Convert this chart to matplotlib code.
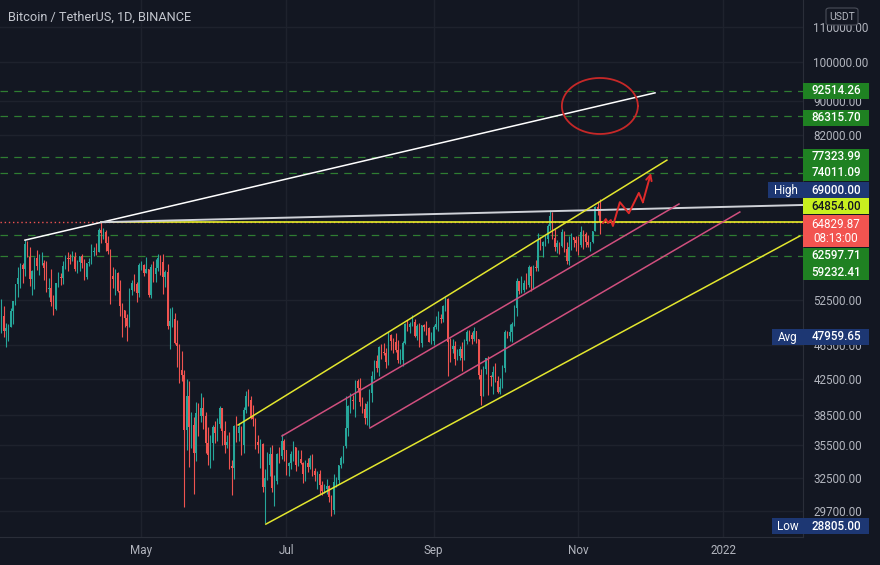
import matplotlib
matplotlib.use("Agg")
import matplotlib.pyplot as plt
from matplotlib.patches import Rectangle, FancyBboxPatch
import numpy as np
import pandas as pd

# ---- daily BTC/USDT candles, 2021-03-02 .. 2021-11-10 ----
start = pd.Timestamp("2021-03-02")
first_open = 49595

closes = [
    # Mar
    48440, 50350, 48374, 48751, 48882, 50971, 52376, 54884, 55851, 57773, 57221, 61188, 58968, 55605, 56900,
    58912, 57648, 58030, 58102, 57351, 54083, 54340, 52303, 51293, 55025, 55817, 55777, 57635, 58746, 58740,
    # Apr
    58720, 58981, 57094, 58215, 59123, 58019, 55948, 58077, 58143, 59770, 60007, 59860, 63577, 62959, 63159,
    61334, 60006, 56150, 55663, 56473, 53906, 51763, 51094, 50050, 49004, 54022, 55034, 54825, 53556, 57750,
    # May
    57828, 56610, 57213, 53241, 57473, 56429, 57380, 58928, 58280, 55883, 56750, 49007, 49716, 49880, 46760,
    46457, 43538, 42910, 36964, 40596, 37304, 37537, 34770, 38705, 38402, 39295, 38436, 35698, 34617, 35679, 37333,
    # Jun
    36694, 37568, 39247, 36857, 35520, 35797, 33553, 33410, 37388, 36676, 37335, 35546, 39021, 40516, 40144,
    38350, 38093, 35820, 35484, 35600, 31676, 32506, 33676, 34664, 31637, 32187, 34649, 34434, 35867, 35041,
    # Jul
    33572, 33815, 34700, 35287, 33691, 34220, 33862, 32875, 33815, 33502, 34258, 33086, 32729, 32820, 31880,
    31383, 31520, 31778, 30839, 29790, 32144, 32287, 33634, 34258, 35425, 37208, 39456, 40019, 40016, 42206, 41461,
    # Aug
    39845, 39147, 38207, 39723, 40862, 42836, 44614, 43792, 46285, 45593, 45562, 44399, 47800, 47068, 46973,
    45901, 44695, 44705, 46760, 49322, 48821, 49239, 49489, 47674, 48953, 46843, 49069, 48895, 48767, 46971, 47100,
    # Sep
    48811, 49247, 49942, 49920, 51756, 52663, 46863, 46048, 46395, 44843, 45143, 46063, 44963, 47092, 48176,
    47784, 47268, 48278, 47260, 42965, 40594, 43574, 44896, 42840, 42716, 43208, 42235, 41034, 41564, 43790,
    # Oct
    48165, 47657, 48233, 49245, 51493, 55339, 53797, 53963, 54963, 54690, 57485, 56006, 57367, 57347, 61673,
    60875, 61528, 62010, 64262, 65993, 62211, 60689, 61287, 60853, 63079, 60329, 58413, 60575, 62254, 61859, 61300,
    # Nov
    60912, 63219, 62897, 61396, 61005, 61527, 63273, 67525, 66940, 64830,
]
highs = [
    50200, 52640, 51773, 49448, 49200, 51450, 52402, 54895, 57387, 58150, 58058, 61788, 61683, 60633, 56938,
    58981, 60129, 59468, 59880, 58589, 58430, 55830, 57200, 53237, 55073, 56700, 56559, 58405, 59368, 59800,
    59474, 60036, 59791, 58500, 59251, 59475, 58650, 58153, 58894, 61200, 60658, 61300, 63777, 64854, 63800,
    63520, 62506, 60408, 57526, 57076, 56757, 55460, 52130, 51167, 50591, 54356, 55477, 56428, 55200, 58075,
    58448, 57900, 58963, 57214, 57939, 58360, 58650, 59500, 59300, 59592, 57000, 58000, 51367, 51560, 50700,
    49800, 46643, 45800, 43546, 42451, 42200, 38856, 38300, 39920, 39791, 40841, 40411, 38856, 37338, 36488, 37534,
    37894, 38225, 39477, 39289, 37925, 36480, 36789, 34068, 37534, 38400, 37680, 37437, 39380, 41064, 41330,
    40528, 39559, 38202, 36457, 36139, 35750, 33298, 34881, 35298, 35500, 32730, 34749, 35297, 36600, 36100,
    35036, 33939, 34909, 35950, 35293, 35038, 35059, 33914, 34100, 34262, 34592, 34678, 33340, 33114, 33185,
    32249, 31936, 32435, 31885, 31063, 32858, 32591, 33650, 34500, 35398, 40550, 39542, 40900, 40640, 42316, 42448,
    42599, 40459, 39780, 39969, 41350, 43392, 44700, 45310, 46454, 46718, 46744, 46218, 48144, 48000, 47372,
    48053, 47160, 46000, 47033, 49382, 49757, 49500, 50500, 49875, 49217, 49370, 49185, 49309, 49640, 48908, 48250,
    49150, 50400, 51052, 50558, 51900, 52920, 52853, 47400, 47340, 47033, 45987, 46450, 46880, 47250, 48475,
    48499, 48163, 48800, 48363, 47320, 43639, 44000, 44978, 45200, 42970, 43950, 44350, 42787, 42590, 44132,
    48495, 48336, 49228, 49536, 51886, 55750, 55338, 56100, 55489, 56561, 57839, 57680, 57793, 58532, 62933,
    62378, 61700, 62695, 64486, 67000, 66639, 63732, 61747, 61500, 63710, 63293, 61496, 62499, 62980, 62359, 62405,
    62437, 64270, 63500, 63086, 62595, 61560, 63286, 67789, 68524, 69000,
]
lows = [
    47047, 48100, 47500, 46300, 47070, 48880, 49274, 51789, 53005, 54269, 55013, 56083, 58963, 54600, 53271,
    54123, 57023, 56270, 57820, 55450, 53650, 53000, 51700, 50427, 51225, 54400, 54691, 54899, 57166, 56770,
    57935, 58446, 56863, 56478, 56789, 57333, 55473, 55700, 57654, 57870, 59177, 59360, 59806, 61301, 62020,
    60000, 59580, 52000, 54221, 53329, 53695, 50400, 47500, 48805, 47044, 48817, 53222, 53813, 52330, 53013,
    57052, 56035, 56478, 53000, 52900, 55200, 55241, 56900, 56235, 53400, 54370, 48600, 46000, 48805, 46650,
    43825, 42001, 42250, 30000, 35000, 33488, 35200, 31111, 34031, 36419, 37800, 37134, 34779, 33632, 33379, 34154,
    35666, 35920, 37170, 35555, 34800, 35258, 33300, 31000, 32397, 35787, 35936, 34600, 34757, 38730, 39506,
    38116, 37365, 35129, 34803, 33336, 31251, 28805, 32286, 32700, 31275, 30151, 32000, 33862, 34225, 34017,
    32712, 32700, 33316, 34017, 33125, 33600, 33780, 32077, 32261, 33004, 33332, 32658, 32202, 31550, 31133,
    31020, 31164, 31108, 30430, 29278, 29482, 31708, 31925, 33401, 33851, 35205, 36383, 38772, 39200, 38313, 41000,
    39422, 38690, 37642, 37508, 37332, 39853, 42446, 43261, 42779, 44868, 45351, 43770, 44057, 45971, 45500,
    45660, 44376, 44203, 43927, 46622, 48274, 48050, 49029, 47600, 47122, 46315, 46350, 48370, 47801, 46862, 46700,
    46512, 48584, 48349, 49400, 49500, 50969, 42843, 44412, 45513, 44132, 44722, 44742, 43370, 44750, 46682,
    47020, 46700, 47044, 46829, 42500, 39600, 40565, 43069, 40675, 41646, 40750, 42098, 40888, 40753, 41410,
    43283, 47430, 47088, 46891, 49002, 50382, 53357, 53617, 53661, 54080, 54415, 53879, 54167, 56818, 56850,
    60150, 58963, 60876, 61322, 63481, 62000, 60000, 59668, 59510, 60650, 59817, 58000, 57820, 60174, 60674, 59945,
    59405, 60624, 60382, 60677, 60721, 60050, 61322, 63273, 66222, 62822,
]

# price axis ticks and axis badges
tick_prices = [110000, 100000, 90000, 82000, 52500, 46500, 42500, 38500, 35500, 32500, 29700]
green_levels = [92514.26, 86315.70, 77323.99, 74011.09, 62597.71, 59232.41]
high_price = 69000.00
yellow_level = 64854.00
last_price = 64829.87
countdown = "08:13:00"
avg_price = 47959.65
low_price = 28805.00

month_ticks = ["2021-05-01", "2021-07-01", "2021-09-01", "2021-11-01", "2022-01-01"]
month_labels = ["May", "Jul", "Sep", "Nov", "2022"]

# user drawings: (day index from start, price)
white_line = ([11, 276.2], [61788, 92000])
gray_ray = ([43, 338.5], [64854, 67950])
yellow_top = ([100.7, 281.2], [37490, 76700])
yellow_bottom = ([112.4, 337.2], [28680, 62490])
pink_top = ([119.2, 286.3], [36400, 68130])
pink_bottom = ([156.2, 311.9], [37190, 66670])
zigzag_x = [254.3, 255.5, 256.4, 257.6, 258.5, 261.4, 265.2, 269.4, 271.1, 274.5]
zigzag_p = [64720, 65410, 64720, 65230, 64200, 68460, 66450, 70200, 68460, 74090]
circle_center = (253, 88790)

bg = "#131722"
grid_c = "#1e222d"
txt_c = "#b2b5be"
up_c = "#26a69a"
dn_c = "#ef5350"
W, H = 880, 565

plt.rcParams["font.family"] = ["Roboto", "DejaVu Sans"]

fig = plt.figure(figsize=(W / 100, H / 100), dpi=100, facecolor=bg)
ax = fig.add_axes([0, 1 - 537 / H, 803 / W, 537 / H])
ax.set_facecolor(bg)
ax.set_yscale("log")
ax.set_xlim(0.49, 338.5)
ax.set_ylim(27700, 118240)

# candles
c = np.array(closes, dtype=float)
h = np.array(highs, dtype=float)
l = np.array(lows, dtype=float)
o = np.concatenate([[first_open], c[:-1]])
x = np.arange(len(c))
cols = np.where(c >= o, up_c, dn_c)
ax.vlines(x, l, h, colors=cols, lw=0.8, zorder=3)
bot = np.minimum(o, c)
top = np.maximum(np.maximum(o, c), bot * 1.002)
ax.bar(x, top - bot, bottom=bot, width=0.55, color=cols, lw=0, zorder=3)

# grid
ax.set_yticks(tick_prices)
ax.set_yticks([], minor=True)
ax.set_yticklabels([f"{p:.2f}" for p in tick_prices])
mt = [(pd.Timestamp(d) - start).days for d in month_ticks]
ax.set_xticks(mt)
ax.set_xticklabels(month_labels)
ax.grid(True, color=grid_c, lw=1.0, zorder=0)
ax.yaxis.tick_right()
ax.tick_params(axis="y", length=0, pad=7.5, labelsize=8.4, labelcolor=txt_c)
ax.tick_params(axis="x", length=0, pad=5, labelsize=8.4, labelcolor=txt_c)
for s in ["top", "left"]:
    ax.spines[s].set_visible(False)
for s in ["right", "bottom"]:
    ax.spines[s].set_color("#2a2e39")

# horizontal levels
for p in green_levels:
    ax.axhline(p, color="#2f7d32", lw=0.9, dashes=(6, 5), zorder=2)
ax.axhline(last_price, color=dn_c, lw=1.0, ls=(0, (1, 2)), zorder=2)
ax.plot([43, 338.5], [yellow_level, yellow_level], color="#e6ef2a", lw=1.2, zorder=4)

# trend lines
ax.plot(*white_line, color="#ffffff", lw=1.1, zorder=5)
ax.plot(*gray_ray, color="#cfd2d8", lw=1.4, zorder=5)
ax.plot(*yellow_top, color="#e3e62e", lw=1.1, zorder=5)
ax.plot(*yellow_bottom, color="#e3e62e", lw=1.1, zorder=5)
ax.plot(*pink_top, color="#d04f7e", lw=1.1, zorder=5)
ax.plot(*pink_bottom, color="#d04f7e", lw=1.1, zorder=5)

# projected path
ax.plot(zigzag_x[:-1], zigzag_p[:-1], color="#e02b2b", lw=1.4, zorder=6)
ax.annotate("", xy=(zigzag_x[-1], zigzag_p[-1]), xytext=(zigzag_x[-2], zigzag_p[-2]),
            arrowprops=dict(arrowstyle="->", color="#e02b2b", lw=1.4, mutation_scale=10,
                            shrinkA=0, shrinkB=0), zorder=6)

# circle drawn in screen proportions
t = np.linspace(0, 2 * np.pi, 200)
ax.plot(circle_center[0] + 16 * np.cos(t), circle_center[1] * np.exp(0.0757 * np.sin(t)),
        color="#c62828", lw=1.3, zorder=6)

# title
fig.text(8 / W, 1 - 17 / H, "Bitcoin / TetherUS, 1D, BINANCE", color="#c3c6ce",
         fontsize=9.2, ha="left", va="center")

# USDT box
fig.add_artist(FancyBboxPatch((826 / W, 1 - 25 / H), 32 / W, 17 / H, boxstyle="round,pad=0,rounding_size=0.004",
                              transform=fig.transFigure, fc=bg, ec="#4a4e59", lw=0.8, zorder=10))
fig.text(842 / W, 1 - 16.5 / H, "USDT", color=txt_c, fontsize=7.5, ha="center", va="center", zorder=11)


def badge(yc, text, face, tc, hgt=16, label=None, lx0=None):
    fig.add_artist(Rectangle((803 / W, 1 - (yc + hgt / 2) / H), 66 / W, hgt / H,
                             transform=fig.transFigure, fc=face, ec="none", zorder=10))
    fig.text(836 / W, 1 - yc / H, text, color=tc, fontsize=8.4, ha="center", va="center",
             fontweight="medium", zorder=11)
    if label:
        fig.add_artist(Rectangle((lx0 / W, 1 - (yc + hgt / 2) / H), (803 - lx0) / W, hgt / H,
                                 transform=fig.transFigure, fc=face, ec="none", zorder=10))
        fig.text((lx0 + 803) / 2 / W, 1 - yc / H, label, color="white", fontsize=8.4,
                 ha="center", va="center", zorder=11)


green = "#1f8122"
navy = "#1d3773"
badge(91, f"{green_levels[0]:.2f}", green, "white")
badge(117.5, f"{green_levels[1]:.2f}", green, "white")
badge(157, f"{green_levels[2]:.2f}", green, "white")
badge(173, f"{green_levels[3]:.2f}", green, "white")
badge(190, f"{high_price:.2f}", navy, "white", label="High", lx0=768)
badge(206.5, f"{yellow_level:.2f}", "#c8ef1f", "#131722")
badge(231, "", "#f25450", "white", hgt=32)
fig.text(836 / W, 1 - 224 / H, f"{last_price:.2f}", color="white", fontsize=8.4, ha="center", va="center", zorder=11)
fig.text(836 / W, 1 - 239 / H, countdown, color="white", fontsize=8.4, ha="center", va="center", zorder=11)
badge(255.5, f"{green_levels[4]:.2f}", green, "white")
badge(272, f"{green_levels[5]:.2f}", green, "white")
badge(337, f"{avg_price:.2f}", navy, "white", label="Avg", lx0=772)
badge(526, f"{low_price:.2f}", navy, "white", label="Low", lx0=772)

fig.savefig("out.png", dpi=100, facecolor=bg)
